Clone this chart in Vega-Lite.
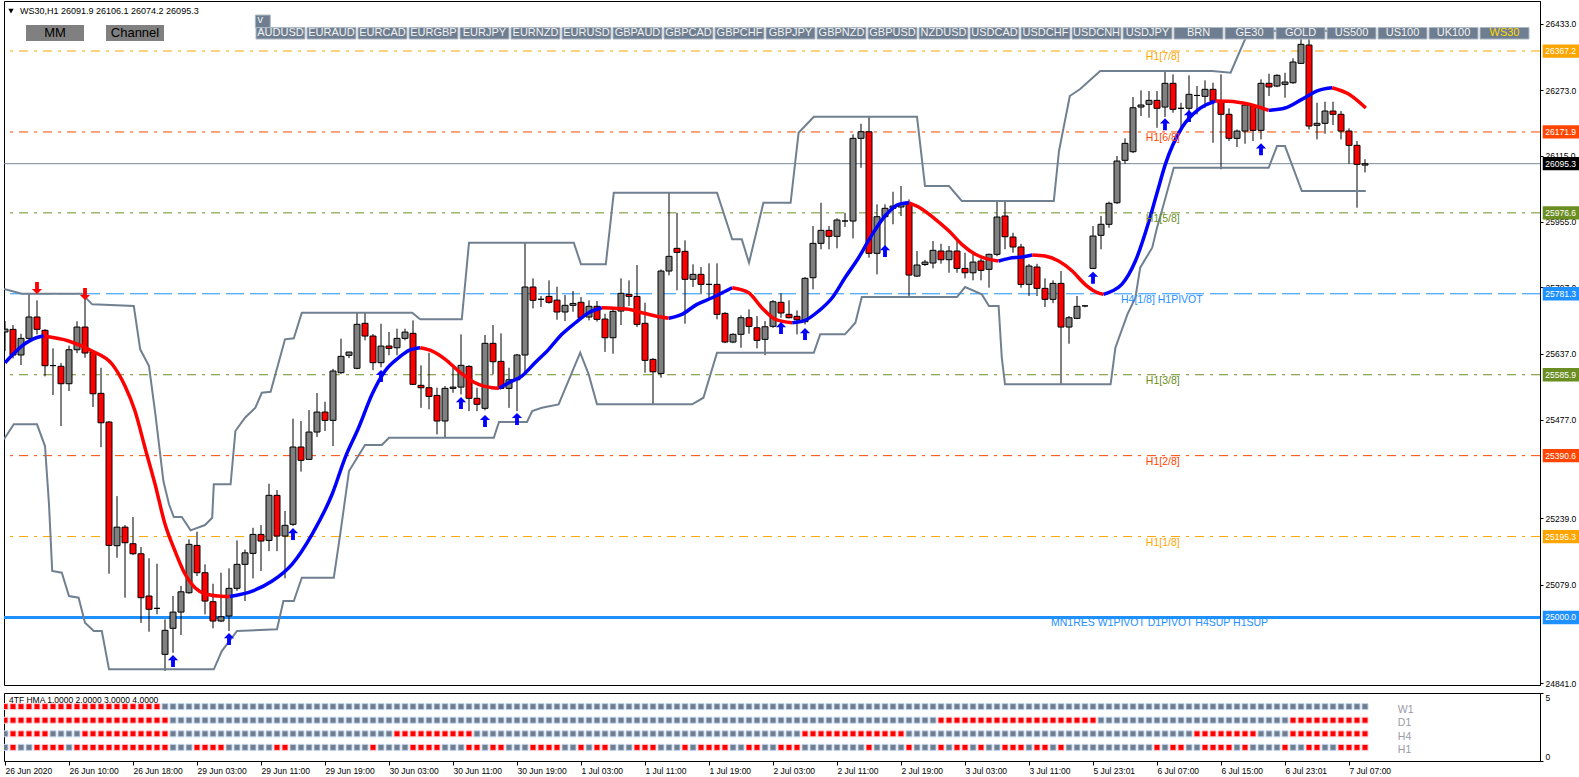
{
"$schema": "https://vega.github.io/schema/vega-lite/v6.json",
"background": "white",
"padding": {"left": 2, "top": 0, "right": 0, "bottom": 0},
"spacing": 3,
"config": {"view": {"stroke": "black", "strokeWidth": 1}, "font": "Liberation Sans",
 "axis": {"grid": false, "labelFont": "Liberation Sans", "labelFontSize": 8.5, "labelColor": "black", "tickColor": "black", "domainColor": "black"}},
"datasets": {
"bars": [
{"i":0,"o":25689,"h":25715.5,"l":25643,"c":25696,"w1":1,"d1":1},
{"i":1,"o":25695.5,"h":25705.8,"l":25625.5,"c":25633.5,"w1":1,"d1":1,"h4":1,"h1":1},
{"i":2,"o":25633.5,"h":25684.8,"l":25609.3,"c":25673.7,"w1":1,"d1":1,"h4":1},
{"i":3,"o":25673.7,"h":25781.4,"l":25667,"c":25725.2,"w1":1,"d1":1,"h4":1},
{"i":4,"o":25725.2,"h":25765.5,"l":25683.4,"c":25695.5,"w1":1,"d1":1,"h4":1,"h1":1},
{"i":5,"o":25693.1,"h":25696,"l":25582,"c":25607.6,"w1":1,"d1":1,"h4":1,"h1":1},
{"i":6,"o":25608,"h":25649.6,"l":25537,"c":25608,"w1":1,"d1":1,"h1":1},
{"i":7,"o":25606.2,"h":25614,"l":25462,"c":25564.2,"w1":1,"d1":1,"h1":1},
{"i":8,"o":25564.2,"h":25656,"l":25546.5,"c":25646.2,"w1":1,"d1":1},
{"i":9,"o":25646.2,"h":25715,"l":25638,"c":25701,"w1":1,"d1":1,"h1":1},
{"i":10,"o":25701,"h":25771.7,"l":25627,"c":25638.3,"w1":1,"d1":1,"h4":1,"h1":1},
{"i":11,"o":25640.7,"h":25643,"l":25508,"c":25540,"w1":1,"d1":1,"h4":1,"h1":1},
{"i":12,"o":25541,"h":25602.8,"l":25411,"c":25470,"w1":1,"d1":1,"h4":1,"h1":1},
{"i":13,"o":25471.7,"h":25474,"l":25105.6,"c":25174,"w1":1,"d1":1,"h4":1,"h1":1},
{"i":14,"o":25173.2,"h":25293,"l":25144,"c":25218,"w1":1,"d1":1,"h4":1,"h1":1},
{"i":15,"o":25218,"h":25223,"l":25047.7,"c":25180.4,"w1":1,"d1":1,"h4":1,"h1":1},
{"i":16,"o":25178,"h":25242.5,"l":25150.6,"c":25153.8,"w1":1,"d1":1,"h4":1,"h1":1},
{"i":17,"o":25153.8,"h":25170,"l":24987,"c":25047.7,"w1":1,"d1":1,"h4":1,"h1":1},
{"i":18,"o":25051.8,"h":25142.8,"l":24965.6,"c":25019.7,"w1":1,"d1":1,"h4":1,"h1":1},
{"i":19,"o":25022,"h":25129.7,"l":25007.6,"c":25022,"w1":1,"d1":1,"h4":1,"h1":1},
{"i":20,"o":24911,"h":24995.5,"l":24870.8,"c":24969,"d1":1,"h4":1,"h1":1},
{"i":21,"o":24973.8,"h":25051.8,"l":24914.8,"c":25013},
{"i":22,"o":25013,"h":25076,"l":24957.6,"c":25062},
{"i":23,"o":25059.7,"h":25188.6,"l":25057,"c":25176.5},
{"i":24,"o":25174,"h":25207,"l":25100,"c":25108,"h1":1},
{"i":25,"o":25108,"h":25128.2,"l":25007.6,"c":25039.6,"h1":1},
{"i":26,"o":25038,"h":25081.5,"l":24973.8,"c":24991.4,"h1":1},
{"i":27,"o":24991.4,"h":25108,"l":24989,"c":25001.7,"h1":1},
{"i":28,"o":25003.5,"h":25118.6,"l":24967.3,"c":25070.3},
{"i":29,"o":25070.3,"h":25186,"l":25064,"c":25128.2},
{"i":30,"o":25128.2,"h":25164,"l":25039.6,"c":25156},
{"i":31,"o":25154.7,"h":25216.5,"l":25094.5,"c":25200.5},
{"i":32,"o":25200.5,"h":25223,"l":25112,"c":25184.5},
{"i":33,"o":25186,"h":25322.8,"l":25160,"c":25294.8},
{"i":34,"o":25294.8,"h":25307.6,"l":25160,"c":25196.5,"h1":1},
{"i":35,"o":25196.5,"h":25257,"l":25094.5,"c":25222.4,"h1":1},
{"i":36,"o":25224.8,"h":25479.7,"l":25221,"c":25411.4},
{"i":37,"o":25411.4,"h":25474.2,"l":25352,"c":25379.3},
{"i":38,"o":25381.7,"h":25500.6,"l":25380,"c":25447.6},
{"i":39,"o":25447.6,"h":25541.7,"l":25435.5,"c":25495.8},
{"i":40,"o":25495.8,"h":25520.7,"l":25450,"c":25475.8},
{"i":41,"o":25475.8,"h":25600,"l":25413.8,"c":25594.8},
{"i":42,"o":25590.8,"h":25672.8,"l":25588,"c":25630.3},
{"i":43,"o":25632.7,"h":25641,"l":25626,"c":25640.7},
{"i":44,"o":25601.4,"h":25735.5,"l":25599,"c":25707.6},
{"i":45,"o":25710,"h":25735.5,"l":25669,"c":25679.3},
{"i":46,"o":25679.3,"h":25684,"l":25597,"c":25615,"h1":1},
{"i":47,"o":25615,"h":25709,"l":25604,"c":25655},
{"i":48,"o":25655.2,"h":25689,"l":25633,"c":25649.5},
{"i":49,"o":25651,"h":25697,"l":25633,"c":25673.7,"h4":1},
{"i":50,"o":25673.7,"h":25697,"l":25669,"c":25688.9,"h4":1},
{"i":51,"o":25685.8,"h":25717,"l":25561,"c":25562.7,"h4":1,"h1":1},
{"i":52,"o":25560.3,"h":25608.6,"l":25506,"c":25554.5,"h4":1,"h1":1},
{"i":53,"o":25554.5,"h":25639,"l":25502.5,"c":25533.6,"h4":1,"h1":1},
{"i":54,"o":25536,"h":25554.5,"l":25442,"c":25474.2,"h4":1,"h1":1},
{"i":55,"o":25474.2,"h":25558.6,"l":25434,"c":25553,"h4":1},
{"i":56,"o":25553,"h":25602.8,"l":25542.4,"c":25556,"h4":1},
{"i":57,"o":25556,"h":25683.4,"l":25538.6,"c":25608.6,"h4":1},
{"i":58,"o":25606,"h":25609,"l":25498,"c":25529,"h4":1,"h1":1},
{"i":59,"o":25529,"h":25554.5,"l":25498,"c":25514.5,"h1":1},
{"i":60,"o":25504.8,"h":25681.7,"l":25500,"c":25661.7},
{"i":61,"o":25661.7,"h":25705.8,"l":25586.8,"c":25617.3,"h1":1},
{"i":62,"o":25618.2,"h":25685.8,"l":25551,"c":25553,"h1":1},
{"i":63,"o":25553,"h":25602.8,"l":25506,"c":25573.8},
{"i":64,"o":25573.8,"h":25636,"l":25498,"c":25633.5},
{"i":65,"o":25633.5,"h":25903.8,"l":25590.8,"c":25797.6},
{"i":66,"o":25797.6,"h":25818.6,"l":25746,"c":25765.5,"h1":1},
{"i":67,"o":25768,"h":25776,"l":25749.4,"c":25768,"h1":1},
{"i":68,"o":25775,"h":25813.7,"l":25757.6,"c":25760.7,"h1":1},
{"i":69,"o":25766,"h":25798.3,"l":25718.6,"c":25737.3,"h1":1},
{"i":70,"o":25737.3,"h":25778.3,"l":25715.5,"c":25753.4},
{"i":71,"o":25753.4,"h":25788,"l":25738,"c":25758},
{"i":72,"o":25760.7,"h":25773.5,"l":25720,"c":25723.5,"h1":1},
{"i":73,"o":25725.2,"h":25765.5,"l":25717,"c":25751},
{"i":74,"o":25751,"h":25763.8,"l":25714,"c":25719.6,"h1":1},
{"i":75,"o":25720.3,"h":25733,"l":25641,"c":25675.2,"h1":1},
{"i":76,"o":25675.2,"h":25747.6,"l":25636.6,"c":25738.9},
{"i":77,"o":25739.6,"h":25818.6,"l":25705.8,"c":25782.4},
{"i":78,"o":25780,"h":25813.7,"l":25751.7,"c":25775},
{"i":79,"o":25775,"h":25850.7,"l":25701,"c":25707.5,"h1":1},
{"i":80,"o":25710,"h":25759.7,"l":25590.8,"c":25620.6,"h1":1},
{"i":81,"o":25623,"h":25626,"l":25512.8,"c":25593,"h1":1},
{"i":82,"o":25589,"h":25840,"l":25578.7,"c":25836.2},
{"i":83,"o":25836.2,"h":26025.2,"l":25825.8,"c":25871.7},
{"i":84,"o":25891,"h":25977,"l":25789.6,"c":25881.3},
{"i":85,"o":25883.7,"h":25910.3,"l":25709,"c":25816.2,"h1":1},
{"i":86,"o":25816.2,"h":25852.4,"l":25797.6,"c":25828.2},
{"i":87,"o":25828.2,"h":25845.9,"l":25780,"c":25804,"h1":1},
{"i":88,"o":25804,"h":25854.8,"l":25771.8,"c":25804,"h1":1},
{"i":89,"o":25804,"h":25854.8,"l":25719.6,"c":25731.7,"h1":1},
{"i":90,"o":25734,"h":25737,"l":25662,"c":25664.8,"h1":1},
{"i":91,"o":25664.8,"h":25686,"l":25662,"c":25683.4},
{"i":92,"o":25683.4,"h":25729.2,"l":25651,"c":25723.5},
{"i":93,"o":25723.5,"h":25743.6,"l":25684.8,"c":25702.7,"h1":1},
{"i":94,"o":25699.3,"h":25727.6,"l":25649.6,"c":25668.9,"h1":1},
{"i":95,"o":25671.3,"h":25715.5,"l":25633,"c":25701.7},
{"i":96,"o":25702.7,"h":25766,"l":25699,"c":25762.1},
{"i":97,"o":25760.7,"h":25782.4,"l":25723.5,"c":25734.8,"h1":1},
{"i":98,"o":25731.7,"h":25765.5,"l":25722,"c":25723.5,"h1":1},
{"i":99,"o":25726.9,"h":25741.3,"l":25683.4,"c":25718.6,"h1":1},
{"i":100,"o":25714,"h":25821.7,"l":25707.5,"c":25818.6,"h4":1},
{"i":101,"o":25820,"h":25944.8,"l":25792,"c":25903,"h4":1},
{"i":102,"o":25903,"h":26001,"l":25888.5,"c":25934.4,"h4":1},
{"i":103,"o":25934.4,"h":25944.8,"l":25888.5,"c":25920,"h4":1},
{"i":104,"o":25920,"h":25963.4,"l":25891,"c":25959.3,"h4":1},
{"i":105,"o":25957,"h":25977,"l":25942.4,"c":25957,"h4":1},
{"i":106,"o":25956.9,"h":26166.2,"l":25915,"c":26156.5,"h4":1},
{"i":107,"o":26156.5,"h":26191.7,"l":26085.5,"c":26172.4,"h4":1},
{"i":108,"o":26172.4,"h":26207.9,"l":25868.3,"c":25879,"h4":1,"h1":1},
{"i":109,"o":25879,"h":25997.2,"l":25828.2,"c":25967.3,"h4":1},
{"i":110,"o":25967.3,"h":25997.2,"l":25892.4,"c":25987.6,"h4":1},
{"i":111,"o":25987.6,"h":26027.6,"l":25949,"c":25993.1,"h4":1},
{"i":112,"o":25990.7,"h":26041.4,"l":25969,"c":25997.2,"h4":1},
{"i":113,"o":25997.2,"h":26009,"l":25771.8,"c":25826.5,"h1":1},
{"i":114,"o":25824,"h":25884.5,"l":25822,"c":25850.7},
{"i":115,"o":25852,"h":25863,"l":25848.3,"c":25857.8},
{"i":116,"o":25855.5,"h":25908.6,"l":25842.6,"c":25886.2},
{"i":117,"o":25884.5,"h":25902,"l":25854,"c":25863.5,"d1":1,"h1":1},
{"i":118,"o":25863.5,"h":25896.6,"l":25832,"c":25884.5,"d1":1},
{"i":119,"o":25884.5,"h":25908.6,"l":25832,"c":25842.6,"d1":1,"h1":1},
{"i":120,"o":25842.6,"h":25880.4,"l":25818.6,"c":25832,"d1":1,"h1":1},
{"i":121,"o":25832,"h":25880.4,"l":25813.7,"c":25857.8,"d1":1},
{"i":122,"o":25860.3,"h":25866.8,"l":25813.7,"c":25837.9,"d1":1,"h1":1},
{"i":123,"o":25840.3,"h":25878,"l":25796,"c":25876.5,"d1":1},
{"i":124,"o":25876.5,"h":26003.5,"l":25872,"c":25966.5,"d1":1},
{"i":125,"o":25969,"h":26005,"l":25888.8,"c":25919,"d1":1,"h1":1},
{"i":126,"o":25918.3,"h":25928.6,"l":25880.4,"c":25894.2,"d1":1,"h1":1},
{"i":127,"o":25894.2,"h":25902,"l":25796,"c":25804,"d1":1,"h1":1},
{"i":128,"o":25804,"h":25853,"l":25775.9,"c":25848.3,"d1":1},
{"i":129,"o":25845.9,"h":25853.8,"l":25775.9,"c":25794.4,"d1":1,"h1":1},
{"i":130,"o":25794.4,"h":25818.6,"l":25749.4,"c":25767.9,"d1":1,"h1":1},
{"i":131,"o":25767.9,"h":25813.7,"l":25758.8,"c":25806.4,"d1":1},
{"i":132,"o":25806.4,"h":25836.2,"l":25561,"c":25701,"d1":1,"h1":1},
{"i":133,"o":25701,"h":25727.6,"l":25660.7,"c":25723.5,"d1":1},
{"i":134,"o":25722,"h":25775.9,"l":25720,"c":25751,"d1":1},
{"i":135,"o":25752,"h":25753,"l":25749,"c":25752,"d1":1},
{"i":136,"o":25842.6,"h":25944.8,"l":25841,"c":25920.7,"d1":1},
{"i":137,"o":25922.4,"h":25969,"l":25888.5,"c":25949},
{"i":138,"o":25949,"h":26003.5,"l":25940.8,"c":25999.7},
{"i":139,"o":26001,"h":26114,"l":25998,"c":26101.7},
{"i":140,"o":26103.4,"h":26156.5,"l":26095.2,"c":26144.4},
{"i":141,"o":26124.2,"h":26256.2,"l":26121,"c":26230.4},
{"i":142,"o":26232,"h":26272.4,"l":26210.3,"c":26236.9},
{"i":143,"o":26238.6,"h":26270.7,"l":26206.2,"c":26248.2},
{"i":144,"o":26248.2,"h":26270.7,"l":26182,"c":26229,"h1":1},
{"i":145,"o":26232,"h":26317.3,"l":26208,"c":26289.3},
{"i":146,"o":26289.3,"h":26311,"l":26218.3,"c":26226.5,"h1":1},
{"i":147,"o":26229,"h":26242.4,"l":26174,"c":26229,"h1":1},
{"i":148,"o":26229,"h":26308.6,"l":26204.8,"c":26262.7},
{"i":149,"o":26260,"h":26282.7,"l":26214.5,"c":26260,"h4":1},
{"i":150,"o":26257.9,"h":26296.5,"l":26230.4,"c":26274.8,"h4":1,"h1":1},
{"i":151,"o":26274.8,"h":26290.7,"l":26145.9,"c":26246.5,"h4":1,"h1":1},
{"i":152,"o":26246.5,"h":26311,"l":26081.7,"c":26214.5,"h4":1,"h1":1},
{"i":153,"o":26214.5,"h":26229,"l":26150,"c":26156.5,"h4":1,"h1":1},
{"i":154,"o":26156.5,"h":26178,"l":26135.5,"c":26174.1,"h4":1},
{"i":155,"o":26174.1,"h":26238.6,"l":26143.5,"c":26236.9,"h4":1,"h1":1},
{"i":156,"o":26234.5,"h":26236.9,"l":26150,"c":26175.8,"h4":1},
{"i":157,"o":26175.8,"h":26298.9,"l":26154,"c":26289.3},
{"i":158,"o":26289.3,"h":26312.4,"l":26258.6,"c":26280.4},
{"i":159,"o":26282.7,"h":26311,"l":26280,"c":26308.6},
{"i":160,"o":26286.8,"h":26314.8,"l":26254.5,"c":26292.4,"h1":1},
{"i":161,"o":26290.7,"h":26349.6,"l":26288,"c":26340.7,"d1":1,"h4":1},
{"i":162,"o":26337.5,"h":26399.3,"l":26336,"c":26383.4,"d1":1,"h4":1},
{"i":163,"o":26381.7,"h":26401,"l":26178,"c":26186.2,"d1":1,"h4":1,"h1":1},
{"i":164,"o":26187.9,"h":26242.4,"l":26154,"c":26192.7,"d1":1,"h4":1,"h1":1},
{"i":165,"o":26192.7,"h":26244.8,"l":26167.6,"c":26222.4,"d1":1,"h4":1},
{"i":166,"o":26222.4,"h":26244.8,"l":26188.6,"c":26214.5,"d1":1,"h4":1},
{"i":167,"o":26214.5,"h":26222.4,"l":26154,"c":26174.1,"d1":1,"h4":1,"h1":1},
{"i":168,"o":26174.1,"h":26180.6,"l":26095.2,"c":26139.6,"d1":1,"h4":1,"h1":1},
{"i":169,"o":26139.6,"h":26150,"l":25989,"c":26093.7,"d1":1,"h4":1,"h1":1},
{"i":170,"o":26091.9,"h":26106.1,"l":26074.2,"c":26095.3,"d1":1,"h4":1,"h1":1}
],
"hma": [
{"s":1,"d":"up","i":0,"v":25614.9},{"s":1,"d":"up","i":2.1,"v":25655.2},{"s":1,"d":"up","i":4,"v":25675.7},{"s":1,"d":"up","i":4.84,"v":25679.3},
{"s":2,"d":"dn","i":4.84,"v":25679.3},{"s":2,"d":"dn","i":7.96,"v":25667.3},{"s":2,"d":"dn","i":10.875,"v":25643.1},{"s":2,"d":"dn","i":13.375,"v":25611.7},{"s":2,"d":"dn","i":15,"v":25558.6},{"s":2,"d":"dn","i":16.25,"v":25498.3},{"s":2,"d":"dn","i":17.5,"v":25409.7},{"s":2,"d":"dn","i":18.75,"v":25322.1},{"s":2,"d":"dn","i":20,"v":25225.5},{"s":2,"d":"dn","i":21.25,"v":25160.4},{"s":2,"d":"dn","i":22.5,"v":25104.9},{"s":2,"d":"dn","i":23.75,"v":25071.8},{"s":2,"d":"dn","i":25,"v":25057.3},{"s":2,"d":"dn","i":26.7,"v":25051.8},{"s":2,"d":"dn","i":28.1,"v":25050.6},
{"s":3,"d":"up","i":28.1,"v":25050.6},{"s":3,"d":"up","i":30.9,"v":25063.8},{"s":3,"d":"up","i":33.4,"v":25088},{"s":3,"d":"up","i":35.9,"v":25129},{"s":3,"d":"up","i":38.4,"v":25201.4},{"s":3,"d":"up","i":40.9,"v":25298},{"s":3,"d":"up","i":42.5,"v":25384.8},{"s":3,"d":"up","i":44.2,"v":25458},{"s":3,"d":"up","i":45.9,"v":25539.3},{"s":3,"d":"up","i":47.5,"v":25594.8},{"s":3,"d":"up","i":49.2,"v":25626.9},{"s":3,"d":"up","i":50.5,"v":25644.8},{"s":3,"d":"up","i":51.9,"v":25651.1},
{"s":4,"d":"dn","i":51.9,"v":25651.1},{"s":4,"d":"dn","i":53.4,"v":25643.1},{"s":4,"d":"dn","i":55,"v":25623.8},{"s":4,"d":"dn","i":56.7,"v":25594.8},{"s":4,"d":"dn","i":58.75,"v":25566.6},{"s":4,"d":"dn","i":60.9,"v":25554.5},{"s":4,"d":"dn","i":61.75,"v":25553.1},
{"s":5,"d":"up","i":61.75,"v":25553.1},{"s":5,"d":"up","i":62.96,"v":25566.6},{"s":5,"d":"up","i":64.6,"v":25582.7},{"s":5,"d":"up","i":66.25,"v":25614.8},{"s":5,"d":"up","i":67.96,"v":25647.2},{"s":5,"d":"up","i":69.6,"v":25683.4},{"s":5,"d":"up","i":71.3,"v":25711.4},{"s":5,"d":"up","i":72.96,"v":25735.6},{"s":5,"d":"up","i":74.6,"v":25747.6},
{"s":6,"d":"dn","i":74.6,"v":25747.6},{"s":6,"d":"dn","i":77.96,"v":25743.8},{"s":6,"d":"dn","i":79.6,"v":25735.6},{"s":6,"d":"dn","i":81.3,"v":25727.6},{"s":6,"d":"dn","i":82.96,"v":25722.1},
{"s":7,"d":"up","i":82.96,"v":25722.1},{"s":7,"d":"up","i":84.6,"v":25731.7},{"s":7,"d":"up","i":86.5,"v":25755.8},{"s":7,"d":"up","i":88.4,"v":25771.8},{"s":7,"d":"up","i":90.9,"v":25795.9},
{"s":8,"d":"dn","i":90.9,"v":25795.9},{"s":8,"d":"dn","i":92.96,"v":25783.8},{"s":8,"d":"dn","i":94.6,"v":25747.6},{"s":8,"d":"dn","i":96.3,"v":25719.6},{"s":8,"d":"dn","i":98.4,"v":25711.4},
{"s":9,"d":"up","i":98.4,"v":25711.4},{"s":9,"d":"up","i":100,"v":25717.2},{"s":9,"d":"up","i":101.7,"v":25739.6},{"s":9,"d":"up","i":103.4,"v":25771.8},{"s":9,"d":"up","i":105,"v":25820},{"s":9,"d":"up","i":106.7,"v":25868.3},{"s":9,"d":"up","i":108.4,"v":25924.8},{"s":9,"d":"up","i":110,"v":25969},{"s":9,"d":"up","i":111.7,"v":25997.2},{"s":9,"d":"up","i":113,"v":26001},
{"s":10,"d":"dn","i":113,"v":26001},{"s":10,"d":"dn","i":114.2,"v":25990.7},{"s":10,"d":"dn","i":116.3,"v":25961},{"s":10,"d":"dn","i":118,"v":25932.7},{"s":10,"d":"dn","i":119.6,"v":25900.6},{"s":10,"d":"dn","i":121.3,"v":25876.5},{"s":10,"d":"dn","i":123,"v":25864.4},{"s":10,"d":"dn","i":124.2,"v":25860.3},
{"s":11,"d":"up","i":124.2,"v":25860.3},{"s":11,"d":"up","i":125.5,"v":25866.8},{"s":11,"d":"up","i":127.1,"v":25870},{"s":11,"d":"up","i":128.4,"v":25874.8},
{"s":12,"d":"dn","i":128.4,"v":25874.8},{"s":12,"d":"dn","i":130,"v":25872.4},{"s":12,"d":"dn","i":131.7,"v":25860.3},{"s":12,"d":"dn","i":133.4,"v":25836.2},{"s":12,"d":"dn","i":135,"v":25804},{"s":12,"d":"dn","i":136.3,"v":25786.2},{"s":12,"d":"dn","i":137.3,"v":25779.9},
{"s":13,"d":"up","i":137.3,"v":25779.9},{"s":13,"d":"up","i":138.4,"v":25787.9},{"s":13,"d":"up","i":139.6,"v":25804},{"s":13,"d":"up","i":141.3,"v":25860.3},{"s":13,"d":"up","i":143,"v":25956.9},{"s":13,"d":"up","i":144,"v":26024.5},{"s":13,"d":"up","i":145.04,"v":26093.7},{"s":13,"d":"up","i":147.1,"v":26182},{"s":13,"d":"up","i":149.2,"v":26226.5},{"s":13,"d":"up","i":151.3,"v":26246.5},
{"s":14,"d":"dn","i":151.3,"v":26246.5},{"s":14,"d":"dn","i":152.96,"v":26246},{"s":14,"d":"dn","i":155.5,"v":26238.6},{"s":14,"d":"dn","i":157.96,"v":26224.1},
{"s":15,"d":"up","i":157.96,"v":26224.1},{"s":15,"d":"up","i":160,"v":26229.6},{"s":15,"d":"up","i":162.1,"v":26250.6},{"s":15,"d":"up","i":164.2,"v":26272.4},{"s":15,"d":"up","i":165.9,"v":26278.6},
{"s":16,"d":"dn","i":165.9,"v":26278.6},{"s":16,"d":"dn","i":168,"v":26262.7},{"s":16,"d":"dn","i":170.1,"v":26229.6}
],
"chan": [
{"b":"u","i":-0.125,"v":25792.8},{"b":"u","i":2.1,"v":25781.4},{"b":"u","i":9.6,"v":25781.4},{"b":"u","i":10.9,"v":25755.8},{"b":"u","i":16.1,"v":25751.7},{"b":"u","i":16.9,"v":25647.2},{"b":"u","i":18,"v":25606.9},{"b":"u","i":18.8,"v":25490.3},{"b":"u","i":19.8,"v":25329.3},{"b":"u","i":20.5,"v":25273.1},{"b":"u","i":21.1,"v":25242.4},{"b":"u","i":22.1,"v":25242.4},{"b":"u","i":23.2,"v":25210.3},{"b":"u","i":25,"v":25223.1},{"b":"u","i":25.9,"v":25240.8},{"b":"u","i":26.1,"v":25321.3},{"b":"u","i":28.2,"v":25321.3},{"b":"u","i":28.8,"v":25450},{"b":"u","i":30,"v":25482.1},{"b":"u","i":31.3,"v":25506.2},{"b":"u","i":32.1,"v":25542.4},{"b":"u","i":33.2,"v":25544.9},{"b":"u","i":35,"v":25671.3},{"b":"u","i":36.1,"v":25673.7},{"b":"u","i":37.1,"v":25735.6},{"b":"u","i":50.9,"v":25735.6},{"b":"u","i":51.9,"v":25719.6},{"b":"u","i":57.1,"v":25719.6},{"b":"u","i":58,"v":25904.5},{"b":"u","i":71.1,"v":25904.5},{"b":"u","i":72,"v":25852.4},{"b":"u","i":75.1,"v":25852.4},{"b":"u","i":76.1,"v":26025.2},{"b":"u","i":89,"v":26025.2},{"b":"u","i":90.9,"v":25912.7},{"b":"u","i":92.1,"v":25912.7},{"b":"u","i":93,"v":25856.2},{"b":"u","i":94.8,"v":26001},{"b":"u","i":98.2,"v":26001},{"b":"u","i":99.2,"v":26170},{"b":"u","i":101.1,"v":26208.6},{"b":"u","i":114,"v":26208.6},{"b":"u","i":115,"v":26041.4},{"b":"u","i":118,"v":26041.4},{"b":"u","i":119.6,"v":26005.2},{"b":"u","i":131.1,"v":26005.2},{"b":"u","i":131.75,"v":26125.9},{"b":"u","i":133.1,"v":26258.6},{"b":"u","i":134.4,"v":26275.5},{"b":"u","i":136.9,"v":26318.9},{"b":"u","i":150.9,"v":26318.9},{"b":"u","i":153.2,"v":26314.8},{"b":"u","i":155,"v":26395.5},{"b":"u","i":155.8,"v":26415.5},{"b":"u","i":170.1,"v":26415.5},
{"b":"l","i":-0.125,"v":25430},{"b":"l","i":1.1,"v":25466.2},{"b":"l","i":4,"v":25466.2},{"b":"l","i":5,"v":25413.8},{"b":"l","i":5.5,"v":25273.1},{"b":"l","i":5.9,"v":25112.1},{"b":"l","i":7.1,"v":25108},{"b":"l","i":8,"v":25051.8},{"b":"l","i":9.2,"v":25047.7},{"b":"l","i":10,"v":24987.4},{"b":"l","i":11.1,"v":24967.3},{"b":"l","i":12.1,"v":24967.3},{"b":"l","i":13,"v":24874.9},{"b":"l","i":26.1,"v":24874.9},{"b":"l","i":27.1,"v":24919},{"b":"l","i":29,"v":24967.3},{"b":"l","i":34,"v":24971.4},{"b":"l","i":34.8,"v":25039.6},{"b":"l","i":36.1,"v":25039.6},{"b":"l","i":37.1,"v":25095.9},{"b":"l","i":41.1,"v":25095.9},{"b":"l","i":41.9,"v":25200.6},{"b":"l","i":43,"v":25353.5},{"b":"l","i":45,"v":25416.2},{"b":"l","i":47.1,"v":25416.2},{"b":"l","i":48,"v":25433.8},{"b":"l","i":61.1,"v":25433.8},{"b":"l","i":61.75,"v":25471.7},{"b":"l","i":65.25,"v":25471.7},{"b":"l","i":65.9,"v":25498.3},{"b":"l","i":67.1,"v":25506.2},{"b":"l","i":69.2,"v":25514.4},{"b":"l","i":71.9,"v":25639},{"b":"l","i":72.96,"v":25586.8},{"b":"l","i":74,"v":25514.4},{"b":"l","i":85.9,"v":25514.4},{"b":"l","i":87.3,"v":25530.4},{"b":"l","i":89,"v":25639},{"b":"l","i":101.1,"v":25639},{"b":"l","i":101.9,"v":25683.4},{"b":"l","i":105,"v":25683.4},{"b":"l","i":106.3,"v":25711.4},{"b":"l","i":107.1,"v":25773.4},{"b":"l","i":119,"v":25773.4},{"b":"l","i":120,"v":25797.6},{"b":"l","i":122.1,"v":25779.9},{"b":"l","i":123,"v":25751.7},{"b":"l","i":124.2,"v":25751.7},{"b":"l","i":124.6,"v":25626.9},{"b":"l","i":125,"v":25562.7},{"b":"l","i":138.2,"v":25562.7},{"b":"l","i":138.8,"v":25651.1},{"b":"l","i":140.3,"v":25731.7},{"b":"l","i":141.3,"v":25772},{"b":"l","i":141.9,"v":25844.3},{"b":"l","i":143.4,"v":25892.6},{"b":"l","i":144,"v":25940.8},{"b":"l","i":144.6,"v":25981.1},{"b":"l","i":146.1,"v":26085.5},{"b":"l","i":157.96,"v":26085.5},{"b":"l","i":159,"v":26137.9},{"b":"l","i":160,"v":26137.9},{"b":"l","i":162.1,"v":26029.3},{"b":"l","i":170.1,"v":26029.3}
],
"arrows": [
{"dir":"dn","i":4,"p":25795.2},{"dir":"dn","i":10,"p":25780.7},
{"dir":"up","i":21,"p":24894.8},{"dir":"up","i":28,"p":24947.9},{"dir":"up","i":36,"p":25201.4},{"dir":"up","i":47,"p":25582.8},{"dir":"up","i":57,"p":25517.6},{"dir":"up","i":60,"p":25474.2},{"dir":"up","i":64,"p":25479},{"dir":"up","i":97,"p":25698.6},{"dir":"up","i":100,"p":25684.1},{"dir":"up","i":110,"p":25884.5},{"dir":"up","i":136,"p":25820},{"dir":"up","i":145,"p":26190.3},{"dir":"up","i":148,"p":26210.3},{"dir":"up","i":157,"p":26130}
],
"levels": [
{"p":26367.2,"name":"H1[7/8]"},{"p":26171.9,"name":"H1[6/8]"},{"p":26095.3,"name":"bid"},{"p":25976.6,"name":"H1[5/8]"},{"p":25781.3,"name":"H4[1/8] H1PIVOT"},{"p":25585.9,"name":"H1[3/8]"},{"p":25390.6,"name":"H1[2/8]"},{"p":25195.3,"name":"H1[1/8]"},{"p":25000.0,"name":"MN1RES W1PIVOT D1PIVOT H4SUP H1SUP"}
],
"syms": [
{"s":"AUDUSD"},{"s":"EURAUD"},{"s":"EURCAD"},{"s":"EURGBP"},{"s":"EURJPY"},{"s":"EURNZD"},{"s":"EURUSD"},{"s":"GBPAUD"},{"s":"GBPCAD"},{"s":"GBPCHF"},{"s":"GBPJPY"},{"s":"GBPNZD"},{"s":"GBPUSD"},{"s":"NZDUSD"},{"s":"USDCAD"},{"s":"USDCHF"},{"s":"USDCNH"},{"s":"USDJPY"},{"s":"BRN"},{"s":"GE30"},{"s":"GOLD"},{"s":"US500"},{"s":"US100"},{"s":"UK100"},{"s":"WS30"}
],
"tfs": [
{"tf":"w1","lvl":4,"lab":"W1"},{"tf":"d1","lvl":3,"lab":"D1"},{"tf":"h4","lvl":2,"lab":"H4"},{"tf":"h1","lvl":1,"lab":"H1"}
]
},
"vconcat": [
{
"width": 1536, "height": 684,
"layer": [
{
"layer": [
{"data": {"name": "levels"},
 "mark": {"type": "rule"},
 "encoding": {
  "y": {"field": "p", "type": "quantitative", "scale": {"domain": [24837, 26488], "nice": false, "zero": false},
        "axis": {"orient": "right", "values": [26433,26353,26273,26195,26115,26035,25955,25875,25797,25717,25637,25557,25477,25319,25239,25159,25079,24921,24841], "format": ".1f", "title": null, "tickSize": 3, "labelPadding": 2, "labelOverlap": false, "labelBound": false}},
  "color": {"field": "name", "type": "nominal", "scale": {"domain": ["H1[7/8]","H1[6/8]","bid","H1[5/8]","H4[1/8] H1PIVOT","H1[3/8]","H1[2/8]","H1[1/8]","MN1RES W1PIVOT D1PIVOT H4SUP H1SUP"], "range": ["#FFA500","#FF4500","#778899","#6B8E23","#1E90FF","#6B8E23","#FF4500","#FFA500","#1E90FF"]}, "legend": null},
  "strokeDash": {"field": "name", "type": "nominal", "scale": {"domain": ["H1[7/8]","H1[6/8]","bid","H1[5/8]","H4[1/8] H1PIVOT","H1[3/8]","H1[2/8]","H1[1/8]","MN1RES W1PIVOT D1PIVOT H4SUP H1SUP"], "range": [[9,6,3,6],[9,6,3,6],[1,0],[9,6,3,6],[18,6],[9,6,3,6],[9,6,3,6],[9,6,3,6],[1,0]]}, "legend": null},
  "strokeWidth": {"condition": {"test": "datum.p == 25000", "value": 3}, "value": 1}
 }},
{"data": {"name": "bars"},
 "mark": {"type": "rule", "color": "black", "strokeWidth": 1, "clip": true},
 "encoding": {
  "x": {"field": "i", "type": "quantitative", "scale": {"domain": [-0.125, 191.875], "nice": false, "zero": false, "padding": 0}, "axis": null},
  "y": {"field": "l", "type": "quantitative", "title": null},
  "y2": {"field": "h"}
 }},
{"data": {"name": "bars"},
 "mark": {"type": "bar", "width": 6, "stroke": "black", "strokeWidth": 1, "clip": true},
 "encoding": {
  "x": {"field": "i", "type": "quantitative", "scale": {"domain": [-0.125, 191.875], "nice": false, "zero": false, "padding": 0}, "axis": null},
  "y": {"field": "o", "type": "quantitative", "title": null},
  "y2": {"field": "c"},
  "fill": {"condition": {"test": "datum.c >= datum.o", "value": "#808080"}, "value": "#FF0000"}
 }},
{"data": {"name": "chan"},
 "mark": {"type": "line", "color": "#708090", "strokeWidth": 2, "clip": true},
 "encoding": {
  "x": {"field": "i", "type": "quantitative", "axis": null},
  "y": {"field": "v", "type": "quantitative", "title": null},
  "detail": {"field": "b"}
 }},
{"data": {"name": "hma"},
 "transform": [{"filter": "datum.d == 'up'"}],
 "mark": {"type": "line", "color": "#0000FF", "strokeWidth": 3.5, "interpolate": "monotone", "clip": true},
 "encoding": {
  "x": {"field": "i", "type": "quantitative", "axis": null},
  "y": {"field": "v", "type": "quantitative", "title": null},
  "detail": {"field": "s"}
 }},
{"data": {"name": "hma"},
 "transform": [{"filter": "datum.d == 'dn'"}],
 "mark": {"type": "line", "color": "#FF0000", "strokeWidth": 3.5, "interpolate": "monotone", "clip": true},
 "encoding": {
  "x": {"field": "i", "type": "quantitative", "axis": null},
  "y": {"field": "v", "type": "quantitative", "title": null},
  "detail": {"field": "s"}
 }},
{"data": {"name": "arrows"},
 "transform": [{"filter": "datum.dir == 'up'"}],
 "mark": {"type": "point", "shape": "M0,-1L0.85,-0.15L0.32,-0.15L0.32,1L-0.32,1L-0.32,-0.15L-0.85,-0.15Z", "filled": true, "color": "#0000FF", "opacity": 1, "size": 144},
 "encoding": {
  "x": {"field": "i", "type": "quantitative", "axis": null},
  "y": {"field": "p", "type": "quantitative", "title": null}
 }},
{"data": {"name": "arrows"},
 "transform": [{"filter": "datum.dir == 'dn'"}],
 "mark": {"type": "point", "shape": "M0,1L0.85,0.15L0.32,0.15L0.32,-1L-0.32,-1L-0.32,0.15L-0.85,0.15Z", "filled": true, "color": "#FF0000", "opacity": 1, "size": 144},
 "encoding": {
  "x": {"field": "i", "type": "quantitative", "axis": null},
  "y": {"field": "p", "type": "quantitative", "title": null}
 }},
{"data": {"name": "levels"},
 "transform": [{"filter": "indexof(datum.name, 'H1[') == 0"}],
 "mark": {"type": "text", "align": "left", "baseline": "top", "dy": 1, "fontSize": 10.5},
 "encoding": {
  "x": {"datum": 142.6, "type": "quantitative", "axis": null},
  "y": {"field": "p", "type": "quantitative", "title": null},
  "text": {"field": "name"},
  "color": {"field": "name", "type": "nominal", "legend": null}
 }},
{"data": {"name": "levels"},
 "transform": [{"filter": "indexof(datum.name, 'H4[') == 0"}],
 "mark": {"type": "text", "align": "left", "baseline": "top", "dy": 1, "fontSize": 10.5},
 "encoding": {
  "x": {"datum": 139.5, "type": "quantitative", "axis": null},
  "y": {"field": "p", "type": "quantitative", "title": null},
  "text": {"field": "name"},
  "color": {"field": "name", "type": "nominal", "legend": null}
 }},
{"data": {"name": "levels"},
 "transform": [{"filter": "indexof(datum.name, 'MN1') == 0"}],
 "mark": {"type": "text", "align": "left", "baseline": "top", "dy": 1, "fontSize": 10.5},
 "encoding": {
  "x": {"datum": 130.75, "type": "quantitative", "axis": null},
  "y": {"field": "p", "type": "quantitative", "title": null},
  "text": {"field": "name"},
  "color": {"field": "name", "type": "nominal", "legend": null}
 }},
{"data": {"name": "levels"},
 "mark": {"type": "point", "shape": "M-1,-0.348H1V0.348H-1Z", "filled": true, "opacity": 1, "size": 1467, "strokeWidth": 0},
 "encoding": {
  "x": {"datum": 194.61, "type": "quantitative", "axis": null},
  "y": {"field": "p", "type": "quantitative", "title": null},
  "fill": {"field": "name", "type": "nominal", "scale": {"domain": ["H1[7/8]","H1[6/8]","bid","H1[5/8]","H4[1/8] H1PIVOT","H1[3/8]","H1[2/8]","H1[1/8]","MN1RES W1PIVOT D1PIVOT H4SUP H1SUP"], "range": ["#FFA500","#FF4500","#000000","#6B8E23","#1E90FF","#6B8E23","#FF4500","#FFA500","#1E90FF"]}, "legend": null}
 }},
{"data": {"name": "levels"},
 "mark": {"type": "text", "align": "left", "baseline": "middle", "fontSize": 8.5, "color": "white"},
 "encoding": {
  "x": {"datum": 192.54, "type": "quantitative", "axis": null},
  "y": {"field": "p", "type": "quantitative", "title": null},
  "text": {"field": "p", "type": "quantitative", "format": ".1f"}
 }},
{"data": {"values": [{}]},
 "mark": {"type": "point", "shape": "triangle-down", "filled": true, "color": "black", "opacity": 1, "size": 28},
 "encoding": {
  "x": {"datum": 0.75, "type": "quantitative", "axis": null},
  "y": {"datum": 26463.5, "type": "quantitative"}
 }},
{"data": {"values": [{}]},
 "mark": {"type": "text", "align": "left", "baseline": "middle", "fontSize": 9, "color": "black", "text": "WS30,H1  26091.9 26106.1 26074.2 26095.3"},
 "encoding": {
  "x": {"datum": 1.875, "type": "quantitative", "axis": null},
  "y": {"datum": 26463, "type": "quantitative"}
 }},
{"data": {"values": [{}]},
 "mark": {"type": "rect", "color": "#808080"},
 "encoding": {
  "x": {"datum": 2.625, "type": "quantitative", "axis": null}, "x2": {"datum": 9.875},
  "y": {"datum": 26430, "type": "quantitative"}, "y2": {"datum": 26391.4}
 }},
{"data": {"values": [{}]},
 "mark": {"type": "rect", "color": "#808080"},
 "encoding": {
  "x": {"datum": 12.625, "type": "quantitative", "axis": null}, "x2": {"datum": 19.875},
  "y": {"datum": 26430, "type": "quantitative"}, "y2": {"datum": 26391.4}
 }},
{"data": {"values": [{}]},
 "mark": {"type": "text", "align": "center", "baseline": "middle", "fontSize": 13, "color": "black", "text": "MM"},
 "encoding": {
  "x": {"datum": 6.25, "type": "quantitative", "axis": null},
  "y": {"datum": 26410.7, "type": "quantitative"}
 }},
{"data": {"values": [{}]},
 "mark": {"type": "text", "align": "center", "baseline": "middle", "fontSize": 13, "color": "black", "text": "Channel"},
 "encoding": {
  "x": {"datum": 16.25, "type": "quantitative", "axis": null},
  "y": {"datum": 26410.7, "type": "quantitative"}
 }},
{"data": {"values": [{}]},
 "mark": {"type": "rect", "color": "#6E7E90", "stroke": "#AEB8C4", "strokeWidth": 1},
 "encoding": {
  "x": {"datum": 31.29, "type": "quantitative", "axis": null}, "x2": {"datum": 33.16},
  "y": {"datum": 26454.1, "type": "quantitative"}, "y2": {"datum": 26423.5}
 }},
{"data": {"values": [{}]},
 "mark": {"type": "text", "align": "center", "baseline": "middle", "fontSize": 11, "color": "#F0F0F0", "text": "v"},
 "encoding": {
  "x": {"datum": 31.9, "type": "quantitative", "axis": null},
  "y": {"datum": 26441, "type": "quantitative"}
 }}
]
},
{
"data": {"name": "syms"},
"layer": [
{"mark": {"type": "rect", "color": "#6E7E90", "stroke": "#AEB8C4", "strokeWidth": 1},
 "encoding": {
  "x": {"field": "s", "type": "nominal", "sort": null, "scale": {"type": "band", "domain": ["AUDUSD","EURAUD","EURCAD","EURGBP","EURJPY","EURNZD","EURUSD","GBPAUD","GBPCAD","GBPCHF","GBPJPY","GBPNZD","GBPUSD","NZDUSD","USDCAD","USDCHF","USDCNH","USDJPY","BRN","GE30","GOLD","US500","US100","UK100","WS30"], "range": [252, 1525], "paddingInner": 0.04, "paddingOuter": 0}, "axis": null},
  "y": {"datum": 26424, "type": "quantitative"},
  "y2": {"datum": 26396.2}
 }},
{"mark": {"type": "text", "align": "center", "baseline": "middle", "fontSize": 11},
 "encoding": {
  "x": {"field": "s", "type": "nominal", "sort": null, "axis": null},
  "y": {"datum": 26410.6, "type": "quantitative"},
  "text": {"field": "s"},
  "color": {"condition": {"test": "datum.s == 'WS30'", "value": "#FFD700"}, "value": "#F2F2F2"}
 }}
]
}
],
"resolve": {"scale": {"x": "independent"}}
},
{
"width": 1536, "height": 68,
"layer": [
{"data": {"name": "bars"},
 "transform": [{"fold": ["w1","d1","h4","h1"], "as": ["tf","flag"]}, {"lookup": "tf", "from": {"data": {"name": "tfs"}, "key": "tf", "fields": ["lvl"]}}],
 "mark": {"type": "square", "size": 36, "filled": true, "opacity": 1, "strokeWidth": 1, "clip": true},
 "encoding": {
  "x": {"field": "i", "type": "quantitative", "scale": {"domain": [-0.125, 191.875], "nice": false, "zero": false, "padding": 0},
        "axis": {"values": [0,8,16,24,32,40,48,56,64,72,80,88,96,104,112,120,128,136,144,152,160,168], "labelExpr": "['26 Jun 2020','26 Jun 10:00','26 Jun 18:00','29 Jun 03:00','29 Jun 11:00','29 Jun 19:00','30 Jun 03:00','30 Jun 11:00','30 Jun 19:00','1 Jul 03:00','1 Jul 11:00','1 Jul 19:00','2 Jul 03:00','2 Jul 11:00','2 Jul 19:00','3 Jul 03:00','3 Jul 11:00','5 Jul 23:01','6 Jul 07:00','6 Jul 15:00','6 Jul 23:01','7 Jul 07:00'][datum.value / 8]", "labelAlign": "left", "tickSize": 4, "labelPadding": 1, "title": null, "domain": false, "labelOverlap": false, "labelFlush": false, "labelBound": false}},
  "y": {"field": "lvl", "type": "quantitative", "scale": {"domain": [0, 5], "nice": false, "zero": false},
        "axis": {"orient": "right", "values": [0, 5], "format": "d", "labelFlush": true, "title": null, "tickSize": 3, "labelPadding": 2}},
  "fill": {"condition": {"test": "datum.flag == 1", "value": "#FF0000"}, "value": "#6F7D8E"},
  "stroke": {"condition": {"test": "datum.flag == 1", "value": "#FFC8D0"}, "value": "#BFD4EC"}
 }},
{"data": {"name": "tfs"},
 "mark": {"type": "text", "align": "left", "baseline": "middle", "dy": 3, "fontSize": 10.5, "color": "#9A9AA8"},
 "encoding": {
  "x": {"datum": 174.1, "type": "quantitative"},
  "y": {"field": "lvl", "type": "quantitative", "title": null},
  "text": {"field": "lab"}
 }},
{"data": {"values": [{}]},
 "mark": {"type": "text", "align": "left", "baseline": "top", "dy": 3, "fontSize": 8.5, "color": "black", "text": "4TF HMA 1.0000 2.0000 3.0000 4.0000"},
 "encoding": {
  "x": {"datum": 0.5, "type": "quantitative"},
  "y": {"datum": 5, "type": "quantitative"}
 }}
]
}
]
}
